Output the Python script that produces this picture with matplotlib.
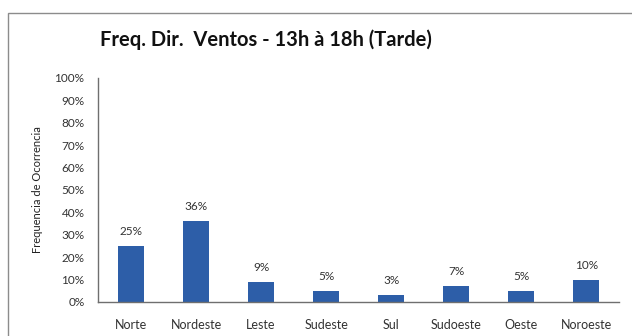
import matplotlib
matplotlib.use("Agg")
import matplotlib.pyplot as plt
from matplotlib.patches import Rectangle

directions = ["Norte", "Nordeste", "Leste", "Sudeste", "Sul", "Sudoeste", "Oeste", "Noroeste"]
freq_pct = [25, 36, 9, 5, 3, 7, 5, 10]
y_ticks = list(range(0, 101, 10))

plt.rcParams['font.family'] = ['Lato', 'DejaVu Sans']

fig = plt.figure(figsize=(6.32, 3.36), dpi=100)
fig.patch.set_facecolor("white")

# chart border like a spreadsheet chart frame
fig.patches.append(Rectangle((8 / 632, -0.05), 1.0, 1 - 13 / 336 + 0.05,
                             transform=fig.transFigure, fill=False,
                             edgecolor="#8c8c8c", linewidth=1.0))

ax = fig.add_axes([98.4 / 632, 34 / 336, 520.6 / 632, 224 / 336])
x = range(len(directions))
bars = ax.bar(x, freq_pct, width=0.4, color="#2d5ea8")

for b, v in zip(bars, freq_pct):
    ax.annotate(f"{v}%", (b.get_x() + b.get_width() / 2, v),
                xytext=(0, 6.5), textcoords="offset points",
                ha="center", va="bottom", fontsize=8.5, color="#333333")

ax.set_xlim(-0.5, len(directions) - 0.5)
ax.set_ylim(0, 100)
ax.set_yticks(y_ticks)
ax.set_yticklabels([f"{t}%" for t in y_ticks], fontsize=8.5, color="#333333")
ax.set_xticks(list(x))
ax.set_xticklabels(directions, fontsize=9, color="#333333")
ax.tick_params(axis="both", length=0)
ax.tick_params(axis="x", pad=12)
ax.tick_params(axis="y", pad=10)

for s in ["top", "right"]:
    ax.spines[s].set_visible(False)
for s in ["left", "bottom"]:
    ax.spines[s].set_color("#6f6f6f")
    ax.spines[s].set_linewidth(1.0)

ax.set_ylabel("Frequencia de Ocorrencia", fontsize=8, color="#222222", labelpad=8)
fig.text(266 / 632, 1 - 40 / 336, "Freq. Dir.  Ventos - 13h à 18h (Tarde)",
         ha="center", va="center", fontsize=14.5, fontweight="bold", color="#111111")

fig.savefig("out.png", dpi=100)
